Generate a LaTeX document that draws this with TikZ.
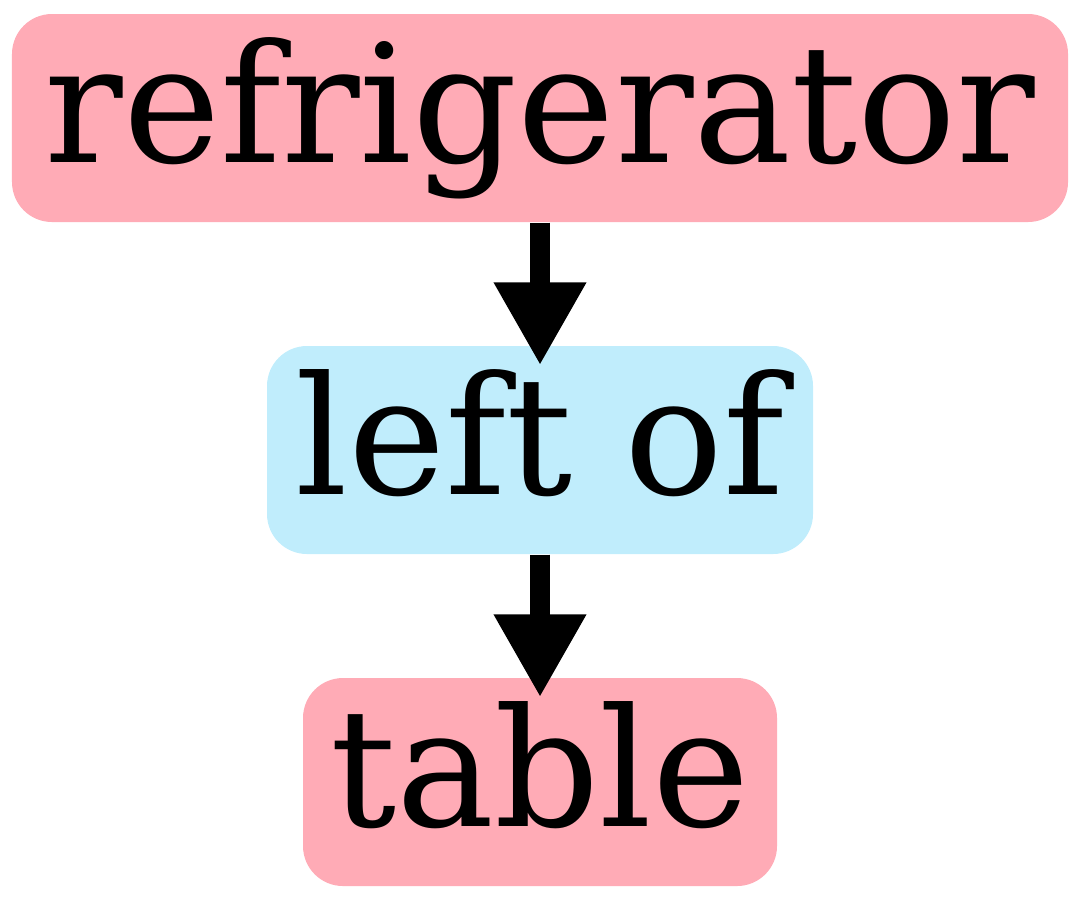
\documentclass[tikz,border=0pt]{standalone}
\usepackage{fontspec}
\setmainfont{DejaVu Serif}
\usetikzlibrary{arrows.meta}
\definecolor{ObjPink}{HTML}{FFABB6}
\definecolor{RelBlue}{HTML}{C0EDFC}

\begin{document}
\begin{tikzpicture}[
    lbl/.style={inner sep=0pt,rounded corners=0.4cm,font=\fontsize{46.8}{52}\selectfont,
      text height=1.29cm,text depth=0.40cm,minimum height=2.08cm},
    objbox/.style={lbl,fill=ObjPink},
    relbox/.style={lbl,fill=RelBlue},
    edge/.style={-{Triangle[length=0.83cm,width=0.87cm]},line width=0.2cm,shorten >=-0.2cm}]
      \useasboundingbox (0,0) rectangle (10.81,-9);
      \node[objbox,minimum width=10.56cm] (fridge) at (5.40,-1.18) {refrigerator};
      \node[relbox,minimum width=5.46cm] (leftof) at (5.40,-4.50) {left of};
      \node[objbox,minimum width=4.74cm] (table) at (5.40,-7.82) {table};
      \draw[edge] (fridge) -- (leftof);
      \draw[edge] (leftof) -- (table);
    \end{tikzpicture}
\end{document}
